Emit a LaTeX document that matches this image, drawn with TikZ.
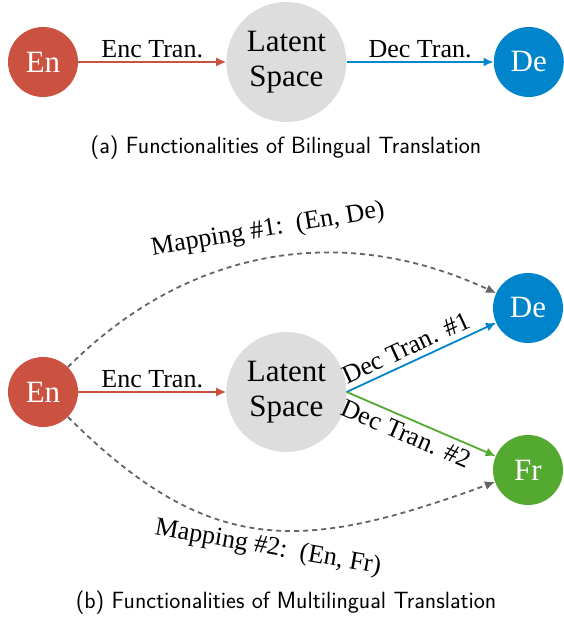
\documentclass[tikz,border=0pt]{standalone}
\usepackage{fontspec}
\setmainfont{Liberation Serif}
\usetikzlibrary{positioning, arrows.meta}
\usepackage{xcolor}
\definecolor{enred}{RGB}{203,82,64}
\definecolor{deblue}{RGB}{0,132,204}
\definecolor{frgreen}{RGB}{84,170,48}
\definecolor{latentgray}{RGB}{221,221,221}
\definecolor{mapgray}{RGB}{100,100,100}

\begin{document}
\begin{tikzpicture}[x=1pt, y=1pt,
    lang/.style={circle, minimum size=70pt, inner sep=0pt, text=white, font=\fontsize{31}{31}\selectfont},
    latent/.style={circle, fill=latentgray, minimum size=120pt, inner sep=0pt, align=center, font=\fontsize{31}{35}\selectfont},
    lbl/.style={font=\fontsize{26}{26}\selectfont},
    subcap/.style={font=\sffamily\fontsize{23.5}{23.5}\selectfont},
    map/.style={->, mapgray, line width=1.8pt, dash pattern=on 5pt off 4pt},
    >={Latex[length=10pt,width=9pt]}]
    \useasboundingbox (0,0) rectangle (563,618);

    % (a) bilingual
    \draw node[lang, fill=enred] (en1) at (43,556) {En};
    \draw node[latent, right=148pt of en1] (lat1) {Latent\\Space};
    \draw node[lang, fill=deblue, right=147pt of lat1] (de1) {De};

    \draw[->, enred, line width=1.8pt](en1) -- node[midway, above, lbl, text=black]{Enc Tran.} (lat1);
    \draw[->, deblue, line width=1.8pt](lat1) -- node[midway, above, lbl, text=black]{Dec Tran.} (de1);

    \node[subcap] (capa) at (286,470) {(a) Functionalities of Bilingual Translation};

    % (b) multilingual
    \draw node[lang, fill=enred] (en2) at (43,226) {En};
    \draw node[latent, right=148pt of en2] (lat2) {Latent\\Space};
    \draw node[lang, fill=deblue] (de2) at (528,310) {De};
    \draw node[lang, fill=frgreen] (fr2) at (528,148) {Fr};

    \draw[->, enred, line width=1.8pt](en2) -- node[midway, above, lbl, text=black]{Enc Tran.} (lat2);
    \draw[->, deblue, line width=1.8pt](lat2.east) -- node[pos=0.44, above=2pt, sloped, lbl, text=black]{Dec Tran. \#1} (de2);
    \draw[->, frgreen, line width=1.8pt](lat2.east) -- node[pos=0.44, below=2pt, sloped, lbl, text=black]{Dec Tran. \#2} (fr2);

    \draw[map](en2) to[out=45, in=155] (de2);
    \draw[map](en2) to[out=-45, in=-160, looseness=1.2] (fr2);
    \node[lbl, rotate=9.5] (map1) at (268,388) {Mapping \#1:~~(En, De)};
    \node[lbl, rotate=-10] (map2) at (268,70) {Mapping \#2:~~(En, Fr)};

    \node[subcap] (capb) at (286,15) {(b) Functionalities of Multilingual Translation};
\end{tikzpicture}
\end{document}
